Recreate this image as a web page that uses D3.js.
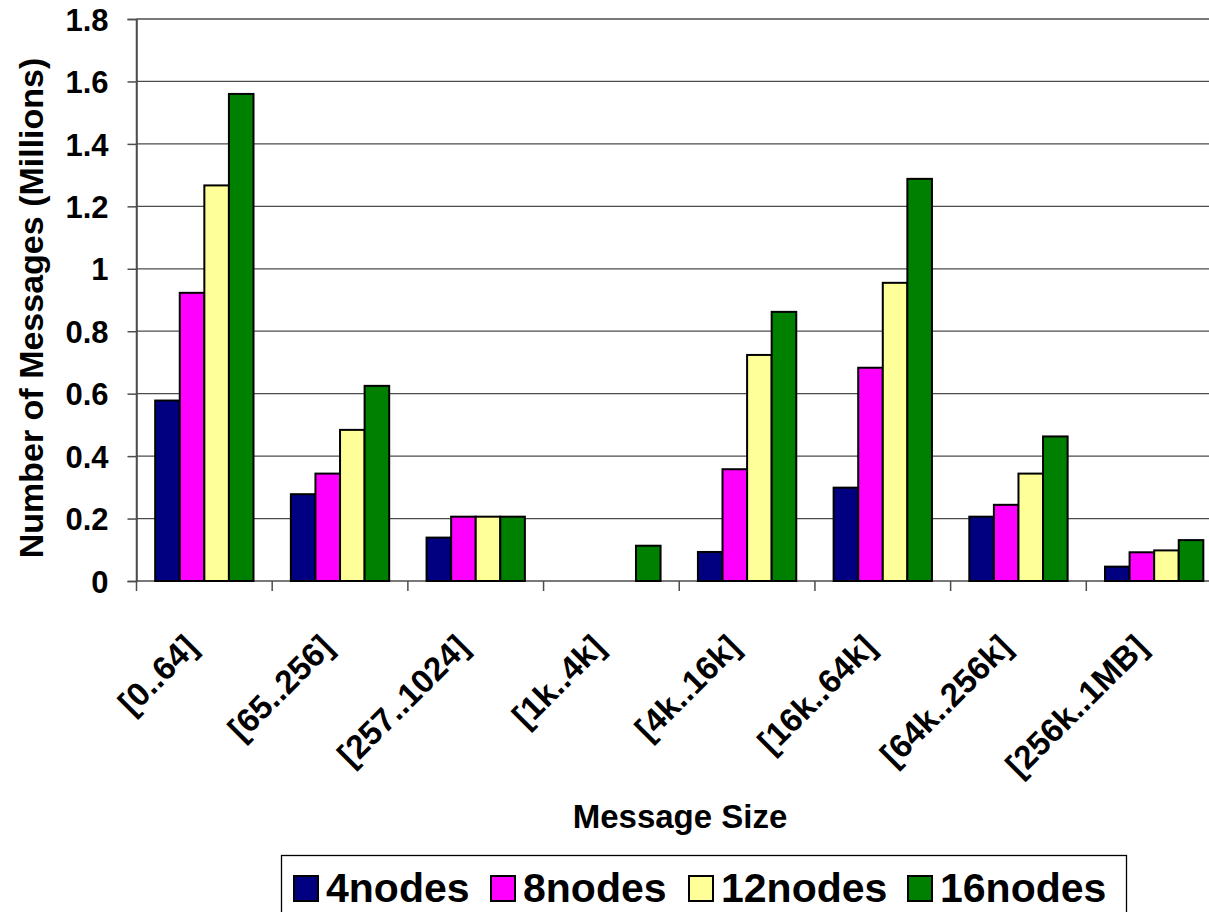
<!DOCTYPE html>
<html>
<head>
<meta charset="utf-8">
<script src="https://cdn.jsdelivr.net/npm/d3@7"></script>
<style>
  body { margin: 0; background: #fff; }
  svg { display: block; font-family: "Liberation Sans", Arial, sans-serif; font-weight: bold; }
  .grid line { stroke: #4d4d4d; stroke-width: 1.3; }
  .bar { stroke: #000; stroke-width: 2; }
</style>
</head>
<body>
<svg width="1209" height="912"></svg>
<script>
// data (millions of messages)
let categories = ["[0..64]", "[65..256]", "[257..1024]", "[1k..4k]", "[4k..16k]", "[16k..64k]", "[64k..256k]", "[256k..1MB]"];
let seriesNames = ["4nodes", "8nodes", "12nodes", "16nodes"];
let colors = ["#000080", "#ff00ff", "#ffff99", "#008000"];
let nodes4  = [0.578, 0.278, 0.139, 0,     0.093, 0.299, 0.206, 0.046];
let nodes8  = [0.923, 0.344, 0.206, 0,     0.358, 0.683, 0.244, 0.092];
let nodes12 = [1.267, 0.484, 0.206, 0,     0.724, 0.955, 0.344, 0.098];
let nodes16 = [1.560, 0.625, 0.206, 0.113, 0.862, 1.288, 0.463, 0.131];
let yTicks = [0, 0.2, 0.4, 0.6, 0.8, 1, 1.2, 1.4, 1.6, 1.8];

let values = [nodes4, nodes8, nodes12, nodes16];

let margin = {top: 19, left: 136.5, bottom: 581, right: 1222};

let svg = d3.select("svg");

let x0 = d3.scaleBand()
    .domain(categories)
    .range([margin.left, margin.right]);

let x1 = d3.scaleBand()
    .domain(seriesNames)
    .range([0, x0.bandwidth()])
    .paddingOuter(0.76);

let y = d3.scaleLinear()
    .domain([0, 1.8])
    .range([margin.bottom, margin.top]);

// horizontal grid lines
svg.append("g")
    .attr("class", "grid")
    .selectAll("line")
    .data(yTicks.slice(1))
    .enter().append("line")
    .attr("x1", margin.left)
    .attr("x2", margin.right)
    .attr("y1", d => y(d))
    .attr("y2", d => y(d));

// y axis
let yAxis = svg.append("g")
    .attr("transform", `translate(${margin.left},0)`)
    .call(d3.axisLeft(y).tickValues(yTicks).tickSize(9).tickPadding(19).tickFormat(d => String(d)));
yAxis.selectAll("path, line").attr("stroke", "#4d4d4d").attr("stroke-width", 1.5);
yAxis.selectAll("text")
    .attr("fill", "#000")
    .style("font-size", "31px")
    .style("font-family", "inherit")
    .attr("dy", "0.36em");

// x axis: ticks at category boundaries
let xAxisG = svg.append("g");
xAxisG.append("line")
    .attr("x1", margin.left).attr("x2", margin.right)
    .attr("y1", margin.bottom).attr("y2", margin.bottom)
    .attr("stroke", "#4d4d4d").attr("stroke-width", 1.5);
xAxisG.selectAll(".tk")
    .data(categories)
    .enter().append("line")
    .attr("x1", d => x0(d)).attr("x2", d => x0(d))
    .attr("y1", margin.bottom).attr("y2", margin.bottom + 10)
    .attr("stroke", "#4d4d4d").attr("stroke-width", 1.5);

// bars
let groups = svg.selectAll(".cat")
    .data(categories)
    .enter().append("g")
    .attr("transform", d => `translate(${x0(d)},0)`);

groups.selectAll("rect")
    .data((d, i) => seriesNames.map((s, j) => ({s: s, j: j, v: values[j][i]})))
    .enter().append("rect")
    .attr("class", "bar")
    .attr("x", d => x1(d.s))
    .attr("width", x1.bandwidth())
    .attr("y", d => y(d.v))
    .attr("height", d => y(0) - y(d.v))
    .attr("fill", d => colors[d.j])
    .style("display", d => d.v > 0 ? null : "none");

// redraw axis line on top of bar bottoms
svg.append("line")
    .attr("x1", margin.left).attr("x2", margin.left)
    .attr("y1", margin.top).attr("y2", margin.bottom)
    .attr("stroke", "#4d4d4d").attr("stroke-width", 1.5);

// category labels, rotated
svg.append("g").selectAll("text")
    .data(categories)
    .enter().append("text")
    .attr("transform", d => `translate(${x0(d) + x0.bandwidth() / 2 - 5},${margin.bottom + 68}) rotate(-45)`)
    .attr("text-anchor", "end")
    .style("font-size", "33px")
    .text(d => d);

// axis titles
svg.append("text")
    .attr("x", 680)
    .attr("y", 828)
    .attr("text-anchor", "middle")
    .style("font-size", "33px")
    .text("Message Size");

svg.append("text")
    .attr("transform", "translate(43,308) rotate(-90)")
    .attr("text-anchor", "middle")
    .style("font-size", "34px")
    .text("Number of Messages (Millions)");

// legend
let legend = svg.append("g");
legend.append("rect")
    .attr("x", 281.5).attr("y", 855.5)
    .attr("width", 845).attr("height", 80)
    .attr("fill", "#fff").attr("stroke", "#000").attr("stroke-width", 1.3);

let legendX = [294, 491, 689, 908];
let item = legend.selectAll(".item")
    .data(seriesNames)
    .enter().append("g")
    .attr("transform", (d, i) => `translate(${legendX[i]},876)`);
item.append("rect")
    .attr("width", 24).attr("height", 25)
    .attr("fill", (d, i) => colors[i])
    .attr("stroke", "#000").attr("stroke-width", 2);
item.append("text")
    .attr("x", 32)
    .attr("y", 26)
    .style("font-size", "41px")
    .text(d => d);
</script>
</body>
</html>
